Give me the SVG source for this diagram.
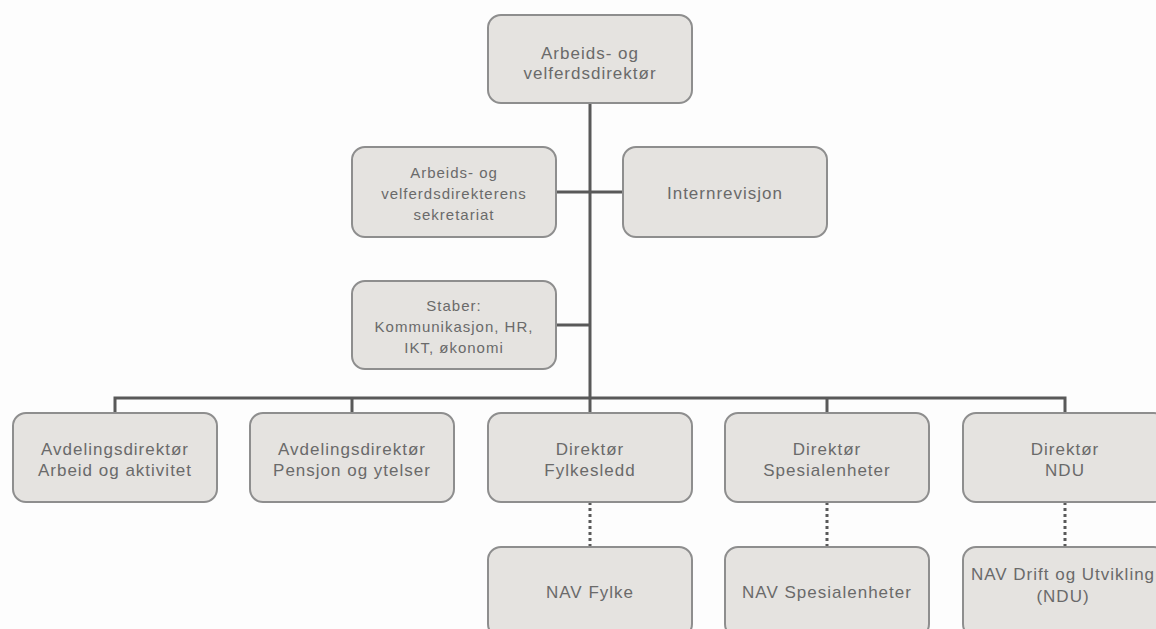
<svg xmlns="http://www.w3.org/2000/svg" width="1156" height="629" viewBox="0 0 1156 629">
  <style>
    .box { fill: #e5e3e0; stroke: #8e8e8e; stroke-width: 2; }
    .t { font-family: "Liberation Sans", Arial, sans-serif; fill: #6a6a6a; text-anchor: middle; letter-spacing: 1px; }
    .l { font-size: 17px; }
    .s { font-size: 15px; }
    .line { stroke: #595959; stroke-width: 3; fill: none; }
    .dot { stroke: #595959; stroke-width: 3; fill: none; stroke-dasharray: 3 3; }
  </style>
  <rect width="1156" height="629" fill="#fdfdfd"/>
  <g id="connectors">
    <path class="line" d="M590 103 V398"/>
    <path class="line" d="M556 192 H623"/>
    <path class="line" d="M556 325 H590"/>
    <path class="line" d="M115 413 V398 H1065 V413"/>
    <path class="line" d="M352 398 V413"/>
    <path class="line" d="M590 398 V413"/>
    <path class="line" d="M827 398 V413"/>
    <path class="dot" d="M590 502 V547"/>
    <path class="dot" d="M827 502 V547"/>
    <path class="dot" d="M1065 502 V547"/>
  </g>
  <g id="n-direktor">
    <rect class="box" x="488" y="15" width="204" height="88" rx="13"/>
    <text class="t l" x="590" y="59">Arbeids- og</text>
    <text class="t l" x="590" y="79">velferdsdirektør</text>
  </g>
  <g id="n-sekretariat">
    <rect class="box" x="352" y="147" width="204" height="90" rx="13"/>
    <text class="t s" x="454" y="178">Arbeids- og</text>
    <text class="t s" x="454" y="199">velferdsdirekterens</text>
    <text class="t s" x="454" y="220">sekretariat</text>
  </g>
  <g id="n-internrevisjon">
    <rect class="box" x="623" y="147" width="204" height="90" rx="13"/>
    <text class="t l" x="725" y="199">Internrevisjon</text>
  </g>
  <g id="n-staber">
    <rect class="box" x="352" y="281" width="204" height="88" rx="13"/>
    <text class="t s" x="454" y="311">Staber:</text>
    <text class="t s" x="454" y="332">Kommunikasjon, HR,</text>
    <text class="t s" x="454" y="353">IKT, økonomi</text>
  </g>
  <g id="n-arbeid">
    <rect class="box" x="13" y="413" width="204" height="89" rx="13"/>
    <text class="t l" x="115" y="455">Avdelingsdirektør</text>
    <text class="t l" x="115" y="476">Arbeid og aktivitet</text>
  </g>
  <g id="n-pensjon">
    <rect class="box" x="250" y="413" width="204" height="89" rx="13"/>
    <text class="t l" x="352" y="455">Avdelingsdirektør</text>
    <text class="t l" x="352" y="476">Pensjon og ytelser</text>
  </g>
  <g id="n-fylkesledd">
    <rect class="box" x="488" y="413" width="204" height="89" rx="13"/>
    <text class="t l" x="590" y="455">Direktør</text>
    <text class="t l" x="590" y="476">Fylkesledd</text>
  </g>
  <g id="n-spesialenheter">
    <rect class="box" x="725" y="413" width="204" height="89" rx="13"/>
    <text class="t l" x="827" y="455">Direktør</text>
    <text class="t l" x="827" y="476">Spesialenheter</text>
  </g>
  <g id="n-ndu">
    <rect class="box" x="963" y="413" width="204" height="89" rx="13"/>
    <text class="t l" x="1065" y="455">Direktør</text>
    <text class="t l" x="1065" y="476">NDU</text>
  </g>
  <g id="n-nav-fylke">
    <rect class="box" x="488" y="547" width="204" height="90" rx="13"/>
    <text class="t l" x="590" y="598">NAV Fylke</text>
  </g>
  <g id="n-nav-spesialenheter">
    <rect class="box" x="725" y="547" width="204" height="90" rx="13"/>
    <text class="t l" x="827" y="598">NAV Spesialenheter</text>
  </g>
  <g id="n-nav-ndu">
    <rect class="box" x="963" y="547" width="204" height="90" rx="13"/>
    <text class="t l" x="1063" y="580">NAV Drift og Utvikling</text>
    <text class="t l" x="1063" y="602">(NDU)</text>
  </g>
</svg>
